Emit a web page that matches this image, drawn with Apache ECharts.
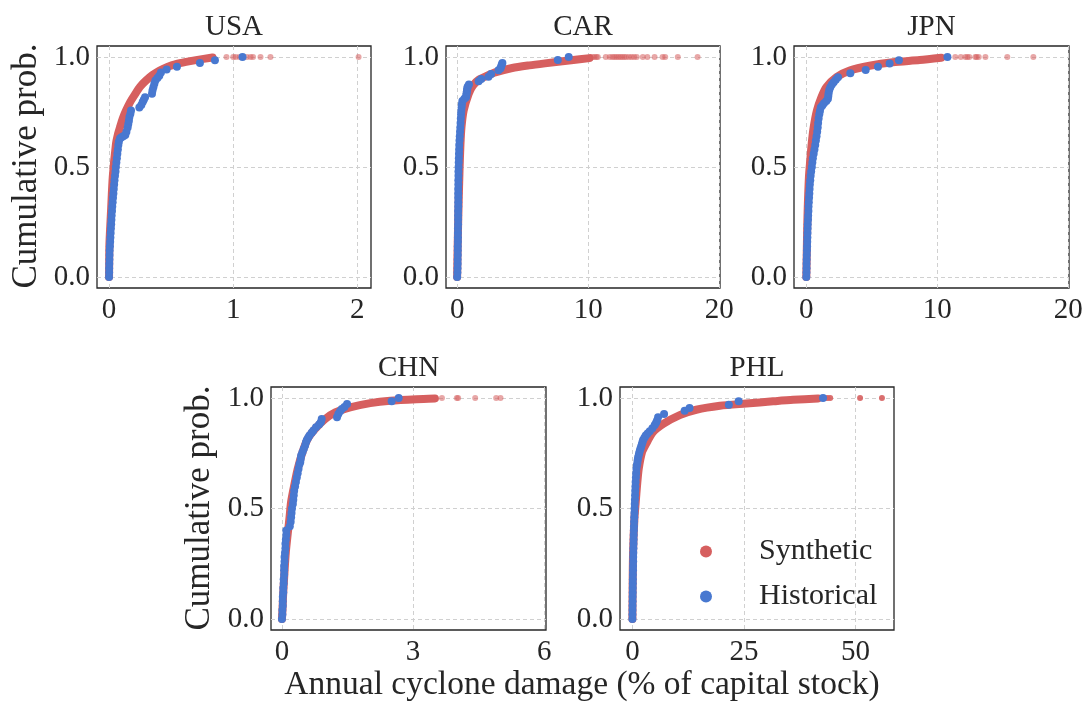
<!DOCTYPE html>
<html>
<head>
<meta charset="utf-8">
<script src="https://cdn.jsdelivr.net/npm/echarts@6/dist/echarts.min.js"></script>
<style>
html,body{margin:0;padding:0;background:#fff;}
#chart{width:1086px;height:704px;}
</style>
</head>
<body>
<div id="chart"></div>
<script>
// ---------- DATA ----------
const panelNames = ['USA', 'CAR', 'JPN', 'CHN', 'PHL'];
const seriesNames = ['Synthetic', 'Historical'];
const yTicks = [0, 0.5, 1.0];
const usaXTicks = [0, 1, 2];
const carXTicks = [0, 10, 20];
const jpnXTicks = [0, 10, 20];
const chnXTicks = [0, 3, 6];
const phlXTicks = [0, 25, 50];

// Synthetic ECDF: dense part [damage, cumulative prob]; tail = sparse extreme years
const usaSynth = [[0,0],[0.001,0.05],[0.003,0.15],[0.016,0.30],[0.03,0.455],[0.056,0.606],[0.07,0.645],[0.088,0.68],[0.11,0.72],[0.137,0.757],[0.17,0.795],[0.212,0.833],[0.25,0.865],[0.298,0.893],[0.35,0.918],[0.405,0.938],[0.47,0.955],[0.539,0.968],[0.62,0.978],[0.70,0.986],[0.834,0.998]];
const usaTail = [[0.946,1],[1.0,1],[1.02,1],[1.05,1],[1.11,1],[1.14,1],[1.16,1],[1.22,1],[1.30,1],[2.01,1]];
const usaHist = [[0,0],[0.001,0.02],[0.001,0.04],[0.002,0.06],[0.003,0.08],[0.004,0.10],[0.005,0.12],[0.007,0.14],[0.009,0.16],[0.011,0.18],[0.013,0.20],[0.015,0.22],[0.017,0.24],[0.019,0.26],[0.021,0.28],[0.024,0.30],[0.026,0.32],[0.029,0.34],[0.032,0.36],[0.035,0.38],[0.038,0.40],[0.041,0.42],[0.044,0.44],[0.048,0.46],[0.052,0.48],[0.055,0.50],[0.059,0.52],[0.063,0.54],[0.067,0.56],[0.071,0.58],[0.075,0.60],[0.079,0.615],[0.088,0.63],[0.1,0.635],[0.115,0.64],[0.131,0.645],[0.14,0.66],[0.15,0.68],[0.155,0.695],[0.16,0.71],[0.164,0.727],[0.172,0.742],[0.177,0.757],[0.244,0.77],[0.26,0.782],[0.271,0.795],[0.28,0.806],[0.29,0.817],[0.346,0.833],[0.35,0.848],[0.357,0.863],[0.365,0.878],[0.373,0.893],[0.39,0.905],[0.405,0.915],[0.418,0.93],[0.464,0.943],[0.547,0.956],[0.732,0.973],[0.853,0.985],[1.075,1.0]];

const carSynth = [[0,0],[0.02,0.08],[0.06,0.2],[0.12,0.35],[0.18,0.48],[0.25,0.6],[0.33,0.68],[0.5,0.757],[0.88,0.833],[1.2,0.87],[1.64,0.896],[2.3,0.915],[2.9,0.93],[4.2,0.95],[5.5,0.962],[6.7,0.971],[8.7,0.985],[10.1,0.995]];
const carTail = [[10.33,1],[10.48,1],[10.63,1],[10.73,1],[11.34,1],[11.64,1],[11.84,1],[11.99,1],[12.14,1],[12.29,1],[12.44,1],[12.59,1],[12.74,1],[12.89,1],[13.10,1],[13.30,1],[13.50,1],[13.70,1],[14.16,1],[14.51,1],[15.06,1],[15.67,1],[15.87,1],[16.83,1],[18.34,1]];
const carHist = [[0,0],[0.02,0.02],[0.03,0.04],[0.04,0.06],[0.04,0.08],[0.05,0.10],[0.05,0.12],[0.05,0.14],[0.06,0.16],[0.06,0.18],[0.06,0.2],[0.06,0.22],[0.07,0.24],[0.07,0.26],[0.07,0.28],[0.07,0.30],[0.08,0.32],[0.08,0.34],[0.08,0.36],[0.08,0.38],[0.08,0.40],[0.09,0.42],[0.09,0.44],[0.1,0.46],[0.1,0.48],[0.11,0.50],[0.12,0.52],[0.13,0.54],[0.14,0.56],[0.15,0.58],[0.16,0.6],[0.18,0.62],[0.2,0.64],[0.22,0.66],[0.24,0.68],[0.26,0.70],[0.28,0.72],[0.3,0.74],[0.32,0.755],[0.34,0.77],[0.36,0.785],[0.4,0.80],[0.55,0.81],[0.68,0.817],[0.7,0.826],[0.72,0.835],[0.74,0.843],[0.76,0.85],[0.78,0.858],[0.8,0.865],[0.9,0.875],[1.64,0.89],[1.84,0.90],[2.39,0.91],[2.59,0.923],[3.15,0.94],[3.3,0.948],[3.35,0.956],[3.4,0.965],[3.45,0.973],[7.68,0.986],[8.51,1.0]];

const jpnSynth = [[0,0],[0.03,0.1],[0.06,0.2],[0.1,0.30],[0.2,0.455],[0.3,0.53],[0.41,0.606],[0.56,0.68],[0.81,0.757],[1.15,0.817],[1.53,0.863],[2.29,0.908],[3.31,0.938],[4.83,0.96],[6.6,0.976],[8.65,0.986],[10.3,0.997]];
const jpnTail = [[11.37,1],[11.79,1],[12.14,1],[12.29,1],[12.44,1],[12.9,1],[13.0,1],[13.16,1],[13.67,1],[15.34,1],[17.33,1]];
const jpnHist = [[0,0],[0.01,0.02],[0.02,0.04],[0.02,0.06],[0.03,0.08],[0.04,0.10],[0.05,0.12],[0.06,0.14],[0.07,0.16],[0.08,0.18],[0.09,0.20],[0.1,0.22],[0.11,0.24],[0.13,0.26],[0.14,0.28],[0.16,0.30],[0.17,0.32],[0.19,0.34],[0.21,0.36],[0.23,0.38],[0.25,0.40],[0.27,0.42],[0.3,0.44],[0.33,0.46],[0.37,0.48],[0.42,0.50],[0.46,0.52],[0.5,0.54],[0.56,0.56],[0.62,0.58],[0.68,0.60],[0.73,0.62],[0.78,0.64],[0.83,0.66],[0.87,0.68],[0.9,0.70],[0.94,0.72],[0.99,0.74],[1.04,0.755],[1.1,0.77],[1.22,0.78],[1.35,0.79],[1.53,0.80],[1.65,0.81],[1.68,0.823],[1.7,0.835],[1.75,0.85],[1.83,0.863],[1.95,0.875],[2.09,0.885],[2.25,0.897],[2.42,0.908],[3.36,0.926],[4.53,0.941],[5.47,0.956],[6.36,0.971],[7.07,0.985],[10.77,1.0]];

const chnSynth = [[0,0],[0.015,0.05],[0.025,0.1],[0.04,0.152],[0.09,0.303],[0.17,0.453],[0.21,0.53],[0.28,0.604],[0.36,0.679],[0.47,0.755],[0.59,0.815],[0.76,0.86],[0.99,0.905],[1.22,0.935],[1.56,0.958],[2.02,0.977],[2.48,0.988],[3.08,0.995],[3.5,0.998]];
const chnTail = [[3.66,1],[4.0,1],[4.03,1],[4.42,1],[4.9,1],[5.0,1]];
const chnHist = [[0,0],[0.01,0.02],[0.01,0.04],[0.02,0.06],[0.02,0.08],[0.02,0.10],[0.03,0.12],[0.03,0.14],[0.04,0.16],[0.04,0.18],[0.05,0.20],[0.05,0.22],[0.05,0.24],[0.06,0.26],[0.06,0.28],[0.07,0.30],[0.08,0.32],[0.08,0.34],[0.09,0.36],[0.1,0.38],[0.1,0.40],[0.18,0.42],[0.2,0.44],[0.21,0.46],[0.22,0.48],[0.23,0.50],[0.25,0.52],[0.26,0.54],[0.27,0.56],[0.28,0.58],[0.3,0.60],[0.32,0.62],[0.34,0.64],[0.36,0.66],[0.38,0.68],[0.4,0.70],[0.42,0.71],[0.43,0.725],[0.44,0.74],[0.47,0.755],[0.5,0.77],[0.53,0.785],[0.55,0.8],[0.57,0.81],[0.6,0.82],[0.63,0.83],[0.68,0.843],[0.72,0.853],[0.78,0.868],[0.85,0.88],[0.89,0.89],[0.91,0.905],[1.26,0.913],[1.29,0.928],[1.33,0.94],[1.37,0.95],[1.43,0.96],[1.49,0.973],[2.51,0.985],[2.67,1.0]];

const phlSynth = [[0,0],[0.02,0.08],[0.05,0.152],[0.15,0.303],[0.45,0.453],[0.75,0.53],[1.04,0.604],[1.42,0.68],[2.16,0.755],[3.0,0.79],[4.6,0.845],[6.9,0.883],[10.6,0.923],[14.3,0.947],[19.6,0.965],[25.5,0.975],[31.5,0.985],[36,0.992],[41.6,0.998]];
const phlTail = [[42.5,1],[43.1,1],[43.7,1],[44.3,1],[51.0,1],[55.9,1]];
const phlHist = [[0,0],[0.01,0.02],[0.02,0.04],[0.03,0.06],[0.05,0.08],[0.06,0.10],[0.08,0.12],[0.09,0.14],[0.1,0.16],[0.11,0.18],[0.12,0.20],[0.14,0.22],[0.15,0.24],[0.17,0.26],[0.18,0.28],[0.2,0.30],[0.22,0.32],[0.25,0.34],[0.28,0.36],[0.3,0.38],[0.33,0.40],[0.35,0.42],[0.37,0.44],[0.41,0.46],[0.45,0.48],[0.48,0.50],[0.52,0.52],[0.56,0.54],[0.6,0.56],[0.63,0.58],[0.67,0.60],[0.72,0.62],[0.78,0.64],[0.84,0.66],[0.9,0.68],[1.0,0.695],[1.1,0.705],[1.18,0.718],[1.27,0.73],[1.4,0.74],[1.5,0.75],[1.65,0.76],[1.79,0.77],[1.95,0.78],[2.1,0.79],[2.25,0.80],[2.39,0.81],[2.7,0.82],[2.99,0.83],[3.4,0.84],[3.88,0.85],[4.48,0.863],[5.0,0.878],[5.3,0.888],[5.52,0.898],[5.75,0.913],[7.09,0.928],[11.7,0.943],[12.8,0.955],[21.6,0.97],[23.8,0.985],[42.7,1.0]];

// ---------- LAYOUT / STYLE ----------
const RED = '#d65f5f', BLUE = '#4878d0', INK = '#262626';
const FONT = '"Liberation Serif", "DejaVu Serif", serif';
const panels = [
  {synth: usaSynth, tail: usaTail, hist: usaHist, xt: usaXTicks, grid: {left: 97, top: 46, width: 274, height: 242}, xmin: -0.097, xmax: 2.11, tailOp: 0.55},
  {synth: carSynth, tail: carTail, hist: carHist, xt: carXTicks, grid: {left: 446, top: 46, width: 274, height: 242}, xmin: -0.85, xmax: 20.05, tailOp: 0.55},
  {synth: jpnSynth, tail: jpnTail, hist: jpnHist, xt: jpnXTicks, grid: {left: 794, top: 46, width: 275, height: 242}, xmin: -0.94, xmax: 20.05, tailOp: 0.55},
  {synth: chnSynth, tail: chnTail, hist: chnHist, xt: chnXTicks, grid: {left: 271, top: 387, width: 275, height: 243}, xmin: -0.25, xmax: 6.04, tailOp: 0.55},
  {synth: phlSynth, tail: phlTail, hist: phlHist, xt: phlXTicks, grid: {left: 620, top: 387, width: 274, height: 243}, xmin: -2.78, xmax: 58.6, tailOp: 0.9}
];

const grids = [], xAxes = [], yAxes = [], series = [], graphics = [];
const splitStyle = {color: '#d0d0d0', width: 1, type: [4, 3]};
panels.forEach((p, i) => {
  grids.push(Object.assign({show: true, borderColor: INK, borderWidth: 1.3, backgroundColor: 'transparent'}, p.grid));
  xAxes.push({
    gridIndex: i, type: 'value', min: p.xmin, max: p.xmax,
    axisLine: {show: false}, axisTick: {show: false, customValues: p.xt},
    axisLabel: {customValues: p.xt, color: INK, fontFamily: FONT, fontSize: 29, margin: 8},
    splitLine: {show: true, lineStyle: splitStyle}
  });
  yAxes.push({
    gridIndex: i, type: 'value', min: -0.05, max: 1.05,
    axisLine: {show: false}, axisTick: {show: false, customValues: yTicks},
    axisLabel: {customValues: yTicks, color: INK, fontFamily: FONT, fontSize: 29, margin: 7,
      formatter: v => v.toFixed(1)},
    splitLine: {show: true, lineStyle: splitStyle}
  });
  series.push({
    name: seriesNames[0], type: 'line', xAxisIndex: i, yAxisIndex: i, data: p.synth,
    showSymbol: false, symbol: 'none', smooth: 0.25,
    lineStyle: {color: RED, width: 8, cap: 'round', join: 'round'}, itemStyle: {color: RED}, z: 2
  });
  series.push({
    name: seriesNames[0], type: 'scatter', xAxisIndex: i, yAxisIndex: i, data: p.tail,
    symbolSize: 6, itemStyle: {color: RED, opacity: p.tailOp}, z: 2
  });
  series.push({
    name: seriesNames[1], type: 'scatter', xAxisIndex: i, yAxisIndex: i, data: p.hist,
    symbolSize: 8, itemStyle: {color: BLUE, opacity: 1}, z: 3
  });
  const cx = p.grid.left + p.grid.width / 2;
  graphics.push({type: 'text', x: cx, y: p.grid.top - 19, style: {text: panelNames[i], font: '29px ' + FONT, fill: INK, align: 'center', verticalAlign: 'middle', textAlign: 'center', textVerticalAlign: 'middle'}});
});

const labelStyle = {font: '35px ' + FONT, fill: INK, align: 'center', verticalAlign: 'middle', textAlign: 'center', textVerticalAlign: 'middle'};
graphics.push({type: 'text', x: 27, y: 166, rotation: Math.PI / 2, style: Object.assign({text: 'Cumulative prob.'}, labelStyle)});
graphics.push({type: 'text', x: 200, y: 508, rotation: Math.PI / 2, style: Object.assign({text: 'Cumulative prob.'}, labelStyle)});
graphics.push({type: 'text', x: 582, y: 685, style: {text: 'Annual cyclone damage (% of capital stock)', font: '33.5px ' + FONT, fill: INK, align: 'center', verticalAlign: 'middle', textAlign: 'center', textVerticalAlign: 'middle'}});

const option = {
  animation: false,
  backgroundColor: '#ffffff',
  grid: grids, xAxis: xAxes, yAxis: yAxes, series: series, graphic: graphics,
  legend: {
    orient: 'vertical', left: 695, top: 531,
    itemWidth: 12, itemHeight: 12, itemGap: 14,
    data: [{name: seriesNames[0], icon: 'circle', itemStyle: {color: RED}},
           {name: seriesNames[1], icon: 'circle', itemStyle: {color: BLUE}}],
    textStyle: {color: INK, fontFamily: FONT, fontSize: 30, lineHeight: 31, padding: [0, 0, 0, 42]}
  }
};
const chart = echarts.init(document.getElementById('chart'), null, {renderer: 'canvas'});
chart.setOption(option);
</script>
</body>
</html>
